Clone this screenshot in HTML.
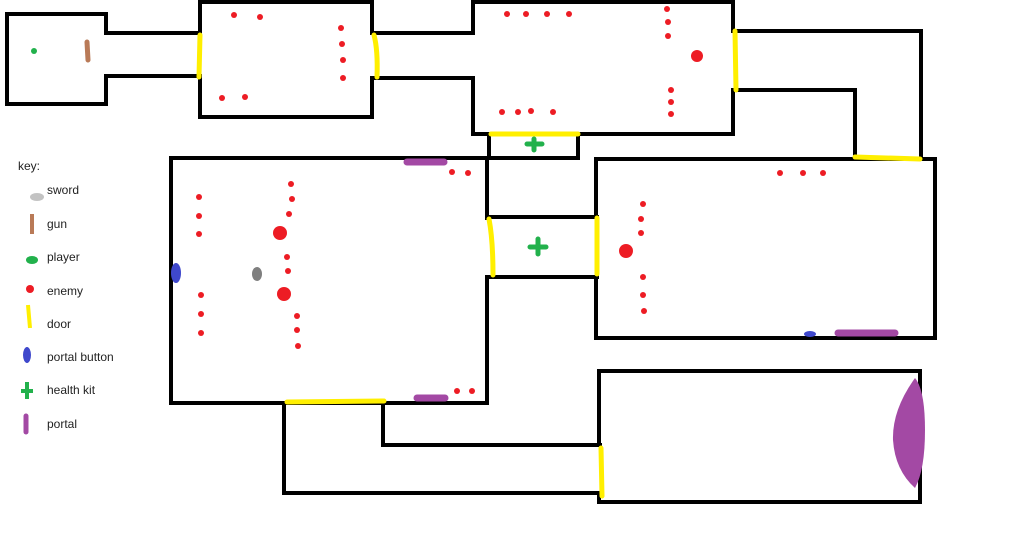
<!DOCTYPE html>
<html><head><meta charset="utf-8"><style>
html,body{margin:0;padding:0;background:#fff;width:1024px;height:542px;overflow:hidden}
svg{display:block}
text{font-family:"Liberation Sans",sans-serif;font-size:12px;fill:#222}
</style></head><body>
<svg width="1024" height="542" viewBox="0 0 1024 542">
<g stroke="#000" stroke-width="4" fill="none" stroke-linecap="square">
<!-- Room A -->
<path d="M106 33 V14 H7 V104 H106 V76"/>
<path d="M106 33 H200 M106 76 H200"/>
<!-- Room B -->
<path d="M200 33 V2 H372 V33 M200 77 V117 H372 V78"/>
<path d="M372 33 H473 M372 78 H473"/>
<!-- Room C -->
<path d="M473 33 V2 H733 V31 M473 78 V134 H733 V90"/>
<path d="M733 31 H921 V158 M733 90 H855 V158"/>
<!-- health room -->
<path d="M489 134 V158 H578 V134"/>
<!-- Room D -->
<path d="M487 218 V158 H171 V403 H487 V277"/>
<path d="M487 217 H597 M487 277 H597"/>
<!-- Room E -->
<path d="M596 217 V159 H935 V338 H596 V277"/>
<!-- lower corridor -->
<path d="M284 403 V493 H600 M383 403 V445 H600"/>
<!-- Room F -->
<path d="M599 445 V371 H920 V502 H599 V493"/>
</g>
<!-- doors -->
<g stroke="#ffef00" stroke-width="5" stroke-linecap="round" fill="none">
<path d="M200 35 L199 77"/>
<path d="M374 35 Q378 50 377 77"/>
<path d="M735 31 L736 90"/>
<path d="M491 134 L578 134"/>
<path d="M855 157 L920 159"/>
<path d="M489 219 Q493 240 493 275"/>
<path d="M597 218 L597 274"/>
<path d="M287 402 L384 401"/>
<path d="M601 448 L602 496"/>
</g>
<!-- health kits -->
<g stroke="#22b14c" stroke-width="5" stroke-linecap="round">
<path d="M527 144 H542 M534 139 V150"/>
<path d="M530 247 H546 M538 239 V254"/>
</g>
<!-- enemies -->
<g fill="#ed1c24">
<circle cx="507" cy="14" r="3"/><circle cx="526" cy="14" r="3"/><circle cx="547" cy="14" r="3"/><circle cx="569" cy="14" r="3"/>
<circle cx="667" cy="9" r="3"/><circle cx="668" cy="22" r="3"/><circle cx="668" cy="36" r="3"/>
<circle cx="697" cy="56" r="6"/>
<circle cx="671" cy="90" r="3"/><circle cx="671" cy="102" r="3"/><circle cx="671" cy="114" r="3"/>
<circle cx="502" cy="112" r="3"/><circle cx="518" cy="112" r="3"/><circle cx="531" cy="111" r="3"/><circle cx="553" cy="112" r="3"/>
<circle cx="234" cy="15" r="3"/><circle cx="260" cy="17" r="3"/><circle cx="341" cy="28" r="3"/><circle cx="342" cy="44" r="3"/><circle cx="343" cy="60" r="3"/><circle cx="343" cy="78" r="3"/><circle cx="222" cy="98" r="3"/><circle cx="245" cy="97" r="3"/>
<circle cx="199" cy="197" r="3"/><circle cx="199" cy="216" r="3"/><circle cx="199" cy="234" r="3"/>
<circle cx="291" cy="184" r="3"/><circle cx="292" cy="199" r="3"/><circle cx="289" cy="214" r="3"/>
<circle cx="280" cy="233" r="7"/>
<circle cx="287" cy="257" r="3"/><circle cx="288" cy="271" r="3"/>
<circle cx="284" cy="294" r="7"/>
<circle cx="297" cy="316" r="3"/><circle cx="297" cy="330" r="3"/><circle cx="298" cy="346" r="3"/>
<circle cx="201" cy="295" r="3"/><circle cx="201" cy="314" r="3"/><circle cx="201" cy="333" r="3"/>
<circle cx="452" cy="172" r="3"/><circle cx="468" cy="173" r="3"/><circle cx="457" cy="391" r="3"/><circle cx="472" cy="391" r="3"/>
<circle cx="780" cy="173" r="3"/><circle cx="803" cy="173" r="3"/><circle cx="823" cy="173" r="3"/>
<circle cx="643" cy="204" r="3"/><circle cx="641" cy="219" r="3"/><circle cx="641" cy="233" r="3"/>
<circle cx="626" cy="251" r="7"/>
<circle cx="643" cy="277" r="3"/><circle cx="643" cy="295" r="3"/><circle cx="644" cy="311" r="3"/>
<circle cx="30" cy="289" r="4"/>
</g>
<!-- items -->
<circle cx="34" cy="51" r="3" fill="#22b14c"/>
<path d="M87 42 L88 60" stroke="#b97a57" stroke-width="5" stroke-linecap="round"/>
<ellipse cx="257" cy="274" rx="5" ry="7" fill="#7f7f7f"/>
<ellipse cx="176" cy="273" rx="5" ry="10" fill="#3f48cc"/>
<ellipse cx="810" cy="334" rx="6" ry="3" fill="#3f48cc"/>
<g stroke="#a349a4" stroke-width="7" stroke-linecap="round">
<path d="M407 162 H444"/><path d="M417 398 H445"/><path d="M838 333 H895"/>
</g>
<path d="M915 378 Q892 410 893 440 Q895 470 915 488 Q925 470 925 430 Q925 390 915 378 Z" fill="#a349a4"/>
<!-- key -->
<text x="18" y="170">key:</text>
<ellipse cx="37" cy="197" rx="7" ry="4" fill="#c3c3c3"/><text x="47" y="194">sword</text>
<path d="M32 214 L32 234" stroke="#b97a57" stroke-width="4"/><text x="47" y="228">gun</text>
<ellipse cx="32" cy="260" rx="6" ry="4" fill="#22b14c"/><text x="47" y="261">player</text>
<text x="47" y="295">enemy</text>
<path d="M28 305 L30 328" stroke="#ffef00" stroke-width="4"/><text x="47" y="328">door</text>
<ellipse cx="27" cy="355" rx="4" ry="8" fill="#3f48cc"/><text x="47" y="361">portal button</text>
<path d="M21 391 H33 M27 382 V399" stroke="#22b14c" stroke-width="4"/><text x="47" y="394">health kit</text>
<path d="M26 416 L26 432" stroke="#a349a4" stroke-width="5" stroke-linecap="round"/><text x="47" y="428">portal</text>
</svg>
</body></html>
